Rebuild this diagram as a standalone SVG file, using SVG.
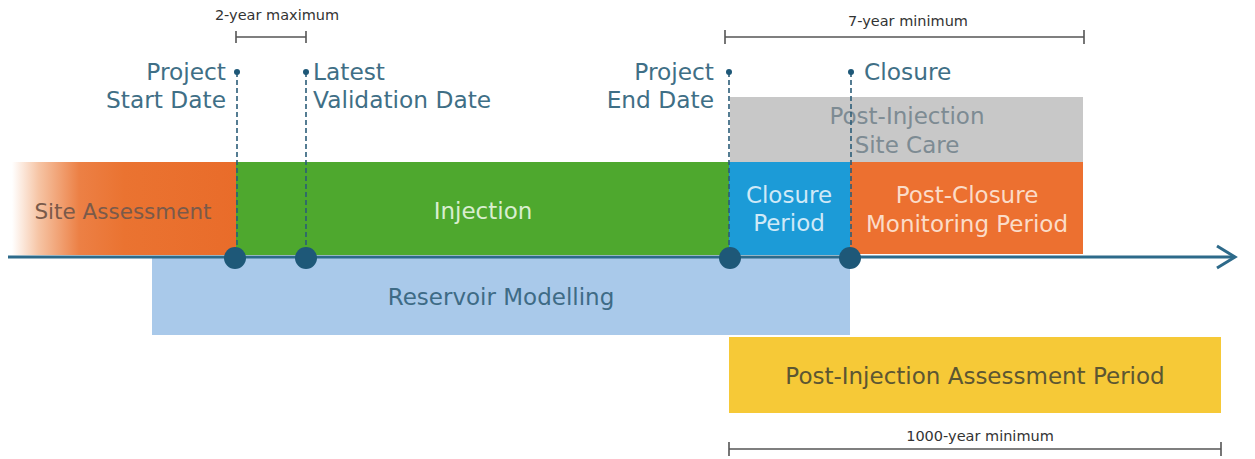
<svg xmlns="http://www.w3.org/2000/svg" width="1255" height="459" viewBox="0 0 1255 459">
<style>
  .lbl{font-family:"DejaVu Sans","Liberation Sans",sans-serif;font-size:23.3px;fill:#3f6f86}
  .blk{font-family:"DejaVu Sans","Liberation Sans",sans-serif;font-size:23px}
  .sm{font-family:"DejaVu Sans","Liberation Sans",sans-serif;font-size:14.5px;fill:#333}
  .dash{stroke:#2b5d78;stroke-width:1.6;stroke-dasharray:5 3;fill:none}
  .bar{stroke:#555;stroke-width:1.6;fill:none}
  .node{fill:#1e5878}
  .dot{fill:#1e5878}
</style>
<defs>
  <linearGradient id="sa" x1="0" y1="0" x2="1" y2="0">
    <stop offset="0" stop-color="#ffffff"/>
    <stop offset="0.12" stop-color="#f6c4a4"/>
    <stop offset="0.3" stop-color="#ec8045"/>
    <stop offset="0.5" stop-color="#ea7331"/>
    <stop offset="1" stop-color="#e96c2a"/>
  </linearGradient>
</defs>
<rect width="1255" height="459" fill="#ffffff"/>

<g id="reservoir-modelling">
  <rect x="152" y="258" width="698" height="77" fill="#a9c9ea"/>
  <text class="blk" x="501" y="305" text-anchor="middle" fill="#3e6b86">Reservoir Modelling</text>
</g>
<g id="post-injection-assessment">
  <rect x="729" y="337" width="492" height="76" fill="#f6c937"/>
  <text class="blk" x="975" y="384" text-anchor="middle" fill="#5c5632">Post-Injection Assessment Period</text>
</g>
<g id="site-care">
  <rect x="730" y="97" width="353" height="65" fill="#c8c8c8"/>
  <text class="blk" x="907" y="124" text-anchor="middle" fill="#7d8b93">Post-Injection</text>
  <text class="blk" x="907" y="153" text-anchor="middle" fill="#7d8b93">Site Care</text>
</g>
<g id="site-assessment">
  <rect x="12" y="162" width="224" height="93" fill="url(#sa)"/>
  <text class="blk" x="123" y="219" text-anchor="middle" fill="#7a5a4a" style="font-size:21.5px">Site Assessment</text>
</g>
<g id="injection">
  <rect x="236" y="162" width="493" height="93" fill="#4ea82e"/>
  <text class="blk" x="483" y="219" text-anchor="middle" fill="#d9eed0">Injection</text>
</g>
<g id="closure-period">
  <rect x="729" y="162" width="121" height="93" fill="#1c9bd7"/>
  <text class="blk" x="789" y="203" text-anchor="middle" fill="#cfe9f7">Closure</text>
  <text class="blk" x="789" y="231" text-anchor="middle" fill="#cfe9f7">Period</text>
</g>
<g id="post-closure">
  <rect x="850" y="162" width="233" height="92" fill="#ec7030"/>
  <text class="blk" x="967" y="203" text-anchor="middle" fill="#fbdcc8">Post-Closure</text>
  <text class="blk" x="967" y="232" text-anchor="middle" fill="#fbdcc8">Monitoring Period</text>
</g>

<g id="connectors">
  <line x1="8" y1="257" x2="1234" y2="257" stroke="#2d6a8a" stroke-width="3"/>
  <polyline points="1217,246 1235,257 1217,268" fill="none" stroke="#2d6a8a" stroke-width="3" stroke-linejoin="miter"/>
  <line class="dash" x1="237" y1="72" x2="237" y2="256"/>
  <line class="dash" x1="306" y1="72" x2="306" y2="256"/>
  <line class="dash" x1="729" y1="72" x2="729" y2="256"/>
  <line class="dash" x1="851" y1="72" x2="851" y2="256"/>
  <circle class="dot" cx="237" cy="72" r="3"/>
  <circle class="dot" cx="306" cy="72" r="3"/>
  <circle class="dot" cx="729" cy="72" r="3"/>
  <circle class="dot" cx="851" cy="72" r="3"/>
  <path class="bar" d="M236,31V43M236,37H306M306,31V43"/>
  <path class="bar" d="M725,30V44M725,37H1084M1084,30V44"/>
  <path class="bar" d="M729,442V456M729,449H1221M1221,442V456"/>
</g>

<g id="milestone-start">
  <circle class="node" cx="235" cy="258" r="11"/>
  <text class="lbl" x="226" y="80" text-anchor="end">Project</text>
  <text class="lbl" x="226" y="108" text-anchor="end">Start Date</text>
</g>
<g id="milestone-validation">
  <circle class="node" cx="306" cy="258" r="11"/>
  <text class="lbl" x="313" y="80">Latest</text>
  <text class="lbl" x="313" y="108">Validation Date</text>
</g>
<g id="milestone-end">
  <circle class="node" cx="730" cy="258" r="11"/>
  <text class="lbl" x="714" y="80" text-anchor="end">Project</text>
  <text class="lbl" x="714" y="108" text-anchor="end">End Date</text>
</g>
<g id="milestone-closure">
  <circle class="node" cx="850" cy="258" r="11"/>
  <text class="lbl" x="864" y="80">Closure</text>
</g>

<g id="duration-labels">
  <text class="sm" x="277" y="20" text-anchor="middle">2-year maximum</text>
  <text class="sm" x="908" y="26" text-anchor="middle">7-year minimum</text>
  <text class="sm" x="980" y="441" text-anchor="middle">1000-year minimum</text>
</g>
</svg>
